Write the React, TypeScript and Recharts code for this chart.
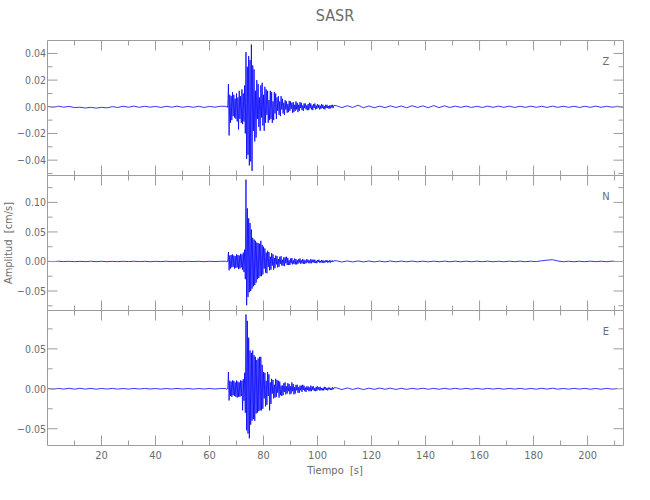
import { LineChart, Line, XAxis, YAxis } from 'recharts'

const FONT = "'DejaVu Sans Condensed', 'Liberation Sans Narrow', 'DejaVu Sans', sans-serif"
const AXIS = '#9c9c9c'
const TEXT = '#6c6c6c'
const TRACE = '#0000ff'

const PLOT_LEFT = 47.5
const PLOT_RIGHT = 623.5

// time axis [s]
const T_MAX = 213.3
const X_TICKS = [10, 20, 30, 40, 50, 60, 70, 80, 90, 100, 110, 120, 130, 140, 150, 160, 170, 180, 190, 200, 210]
const X_LABELED = [20, 40, 60, 80, 100, 120, 140, 160, 180, 200]

// sampling of the stored traces: quiet part every 2 s, event every 0.25 s
const PRE_START = 0
const PRE_DT = 2
const EVENT_START = 66
const EVENT_DT = 0.25
const POST_START = 107
const POST_DT = 2

// ---- Z ----
const Z_DOMAIN = [-0.0515, 0.0497]
const Z_TICKS = [-0.05, -0.04, -0.03, -0.02, -0.01, 0, 0.01, 0.02, 0.03, 0.04]
const Z_LABELED = [-0.04, -0.02, 0, 0.02, 0.04]

const Z_PRE = [
  0.0004, -0.0003, 0.0005, -0.0003, 0.0003, -0.0006, -0.0003, -0.0009, -0.0004, -0.001, -0.0004,
  -0.0008, 0.0001, -0.0005, 0.0004, -0.0003, 0.0005, -0.0004, 0.0004, -0.0003, 0.0003, -0.0005,
  0.0004, -0.0003, 0.0005, -0.0004, 0.0003, -0.0004, 0.0004, -0.0005, 0.0003, -0.0003, 0.0004,
]
const Z_EVENT = [
  0.0004, -0.0003, 0.0005, -0.0004,
  0.017, -0.0215, 0.009, -0.012,
  0.008, -0.01, 0.011, -0.007,
  0.009, -0.008, 0.006, -0.009,
  0.01, -0.011, 0.007, -0.017,
  0.012, -0.009, 0.008, -0.012,
  0.013, -0.013, 0.01, -0.011,
  0.016, -0.02, 0.041, -0.039,
  0.03, -0.036, 0.038, -0.044,
  0.035, -0.041, 0.0467, -0.048,
  0.031, -0.018, 0.028, -0.026,
  0.012, -0.023, 0.02, -0.009,
  0.017, -0.015, 0.007, -0.018,
  0.016, -0.008, 0.018, -0.014,
  0.009, -0.018, 0.015, -0.012,
  0.013, -0.006, 0.012, -0.012,
  0.005, -0.01, 0.012, -0.009,
  0.011, -0.012, 0.004, -0.01,
  0.011, -0.005, 0.01, -0.009,
  0.007, -0.003, 0.008, -0.006,
  0.004, -0.007, 0.008, -0.002,
  0.006, -0.005, 0.003, -0.006,
  0.005, -0.002, 0.004, -0.0045,
  0.002, -0.004, 0.0045, -0.003,
  0.004, -0.0015, 0.003, -0.0045,
  0.0035, -0.004, 0.0015, -0.003,
  0.004, -0.002, 0.003, -0.004,
  0.0015, -0.003, 0.0035, -0.001,
  0.003, -0.0025, 0.001, -0.003,
  0.0025, -0.001, 0.0025, -0.002,
  0.001, -0.0025, 0.002, -0.0025,
  0.003, -0.001, 0.0025, -0.002,
  0.001, -0.0025, 0.002, -0.0008,
  0.0025, -0.002, 0.001, -0.0015,
  0.002, -0.0008, 0.0015, -0.002,
  0.0008, -0.0015, 0.002, -0.001,
  0.0015, -0.0015, 0.0006, -0.002,
  0.0015, -0.0008, 0.0015, -0.001,
  0.0006, -0.0015, 0.001, -0.0012,
  0.0012, -0.0006, 0.0015, -0.001,
  0.001,
]
const Z_POST = [
  0.0008, -0.0006, 0.0008, -0.0005, 0.0012, -0.0007, 0.0006, -0.0007, 0.0005, -0.0006,
  0.0007, -0.0005, 0.0006, -0.0007, 0.0008, -0.0005, 0.0007, -0.0007, 0.0009, -0.0006,
  0.0007, -0.0005, 0.0005, -0.0004, 0.0005, -0.0005, 0.0004, -0.0005, 0.0005, -0.0004,
  0.0005, -0.0004, 0.0005, -0.0005, 0.0004, -0.0004, 0.0005, -0.0004, 0.0004, -0.0005,
  0.0005, -0.0004, 0.0004, -0.0004, 0.0004, -0.0005, 0.0004, -0.0004, 0.0005, -0.0004,
  0.0004, -0.0003, 0.0004, -0.0003,
]

// ---- N ----
const N_DOMAIN = [-0.083, 0.1455]
const N_TICKS = [-0.075, -0.05, -0.025, 0, 0.025, 0.05, 0.075, 0.1, 0.125]
const N_LABELED = [-0.05, 0, 0.05, 0.1]

const N_PRE = [
  0.0003, -0.0003, 0.0004, -0.0002, 0.0003, -0.0004, 0.0002, -0.0003, 0.0004, -0.0003, 0.0003,
  -0.0004, 0.0002, -0.0003, 0.0003, -0.0002, 0.0004, -0.0003, 0.0003, -0.0004, 0.0002, -0.0003,
  0.0004, -0.0003, 0.0002, -0.0004, 0.0003, -0.0002, 0.0003, -0.0004, 0.0003, -0.0002, 0.0003,
]
const N_EVENT = [
  0.0003, -0.0003, 0.0004, -0.0003,
  0.016, -0.015, 0.01, -0.012,
  0.011, -0.01, 0.012, -0.009,
  0.01, -0.012, 0.009, -0.011,
  0.012, -0.01, 0.011, -0.013,
  0.01, -0.012, 0.013, -0.01,
  0.012, -0.014, 0.015, -0.018,
  0.02, -0.03, 0.1385, -0.074,
  0.09, -0.06, 0.073, -0.052,
  0.065, -0.05, 0.054, -0.046,
  0.04, -0.042, 0.037, -0.04,
  0.035, -0.036, 0.032, -0.03,
  0.031, -0.028, 0.03, -0.025,
  0.035, -0.025, 0.028, -0.022,
  0.025, -0.012, 0.022, -0.019,
  0.015, -0.02, 0.018, -0.009,
  0.016, -0.015, 0.008, -0.014,
  0.014, -0.007, 0.012, -0.014,
  0.006, -0.011, 0.01, -0.005,
  0.009, -0.01, 0.004, -0.009,
  0.008, -0.004, 0.009, -0.007,
  0.003, -0.007, 0.007, -0.008,
  0.007, -0.003, 0.008, -0.006,
  0.006, -0.006, 0.002, -0.006,
  0.005, -0.003, 0.006, -0.005,
  0.002, -0.004, 0.005, -0.005,
  0.004, -0.005, 0.002, -0.004,
  0.004, -0.002, 0.005, -0.004,
  0.002, -0.003, 0.004, -0.004,
  0.003, -0.004, 0.0015, -0.003,
  0.004, -0.0015, 0.003, -0.003,
  0.0015, -0.003, 0.004, -0.003,
  0.003, -0.0015, 0.003, -0.0025,
  0.003, -0.0025, 0.001, -0.003,
  0.0025, -0.001, 0.003, -0.002,
  0.001, -0.002, 0.0025, -0.002,
  0.002, -0.0025, 0.001, -0.002,
  0.002, -0.001, 0.0025, -0.002,
  0.001, -0.0015, 0.002, -0.002,
  0.0015, -0.001, 0.0015, -0.0008,
  0.0012,
]
const N_POST = [
  0.0012, -0.0009, 0.0009, -0.0008, 0.0009, -0.0007, 0.0008, -0.0007, 0.0006, -0.0007,
  0.0008, -0.0006, 0.0006, -0.0005, 0.0007, -0.0006, 0.0005, -0.0006, 0.0005, -0.0005,
  0.0006, -0.0005, 0.0005, -0.0005, 0.0005, -0.0005, 0.0005, -0.0004, 0.0005, -0.0005,
  0.0004, -0.0005, 0.0005, -0.0004, 0.0005, -0.0004, 0.0005, -0.0003, 0.0012, 0.0022,
  0.003, 0.0008, -0.0005, 0.0004, -0.0005, 0.0004, -0.0004, 0.0005, -0.0003, 0.0004,
  -0.0004, 0.0005, -0.0003,
]

// ---- E ----
const E_DOMAIN = [-0.071, 0.098]
const E_TICKS = [-0.05, -0.025, 0, 0.025, 0.05, 0.075]
const E_LABELED = [-0.05, 0, 0.05]

const E_PRE = [
  0.0004, -0.0003, 0.0005, -0.0004, 0.0006, -0.0005, 0.0006, -0.0004, 0.0005, -0.0005, 0.0004,
  -0.0003, 0.0004, -0.0004, 0.0003, -0.0004, 0.0004, -0.0003, 0.0004, -0.0003, 0.0003, -0.0004,
  0.0003, -0.0003, 0.0004, -0.0003, 0.0003, -0.0004, 0.0003, -0.0003, 0.0004, -0.0003, 0.0003,
]
const E_EVENT = [
  0.0003, -0.0004, 0.0003, -0.0003,
  0.021, -0.0146, 0.01, -0.009,
  0.009, -0.01, 0.0104, -0.008,
  0.01, -0.009, 0.008, -0.01,
  0.0104, -0.011, 0.009, -0.01,
  0.008, -0.01, 0.0104, -0.009,
  0.01, -0.027, 0.012, -0.015,
  0.02, -0.03, 0.093, -0.052,
  0.085, -0.056, 0.064, -0.062,
  0.048, -0.045, 0.045, -0.04,
  0.048, -0.038, 0.042, -0.04,
  0.04, -0.031, 0.036, -0.03,
  0.038, -0.028, 0.04, -0.027,
  0.04, -0.027, 0.03, -0.025,
  0.021, -0.012, 0.02, -0.022,
  0.01, -0.02, 0.021, -0.009,
  0.018, -0.027, 0.008, -0.019,
  0.0125, -0.006, 0.011, -0.012,
  0.005, -0.011, 0.0125, -0.01,
  0.011, -0.005, 0.01, -0.011,
  0.009, -0.008, 0.004, -0.009,
  0.004, -0.008, 0.007, -0.004,
  0.008, -0.007, 0.003, -0.006,
  0.007, -0.003, 0.006, -0.007,
  0.003, -0.006, 0.008, -0.003,
  0.006, -0.007, 0.002, -0.006,
  0.005, -0.002, 0.005, -0.005,
  0.002, -0.005, 0.004, -0.002,
  0.004, -0.004, 0.005, -0.0015,
  0.004, -0.003, 0.0015, -0.004,
  0.003, -0.0015, 0.003, -0.003,
  0.0015, -0.003, 0.004, -0.003,
  0.003, -0.0015, 0.003, -0.0025,
  0.001, -0.003, 0.0025, -0.0025,
  0.003, -0.001, 0.002, -0.002,
  0.0025, -0.002, 0.001, -0.002,
  0.001, -0.002, 0.0025, -0.001,
  0.002, -0.0015, 0.001, -0.002,
  0.0015, -0.0008, 0.0015, -0.0015,
  0.0008, -0.0015, 0.002, -0.0008,
  0.0012,
]
const E_POST = [
  0.0012, -0.001, 0.0011, -0.0008, 0.0009, -0.001, 0.0008, -0.0007, 0.0009, -0.0006,
  0.0007, -0.0008, 0.0006, -0.0007, 0.0006, -0.0005, 0.0007, -0.0006, 0.0005, -0.0006,
  0.0005, -0.0005, 0.0006, -0.0005, 0.0005, -0.0005, 0.0005, -0.0005, 0.0005, -0.0004,
  0.0005, -0.0005, 0.0005, -0.0004, 0.0005, -0.0005, 0.0004, -0.0005, 0.0006, -0.0004,
  0.0007, -0.0005, 0.0004, -0.0005, 0.0005, -0.0004, 0.0005, -0.0006, 0.0004, -0.0006,
  0.0005, -0.0004, 0.0003,
]

type Pt = { t: number; v: number }

function buildTrace(pre: number[], ev: number[], post: number[]): Pt[] {
  const out: Pt[] = []
  pre.forEach((v, i) => out.push({ t: PRE_START + i * PRE_DT, v }))
  ev.forEach((v, i) => out.push({ t: EVENT_START + i * EVENT_DT, v }))
  post.forEach((v, i) => out.push({ t: POST_START + i * POST_DT, v }))
  return out
}

const has = (list: number[], v: number) => list.some((l) => Math.abs(l - v) < 1e-9)
const fmtY = (v: number) => (v < 0 ? '\u2212' + Math.abs(v).toFixed(2) : v.toFixed(2))

const PANELS = [
  { id: 'Z', data: buildTrace(Z_PRE, Z_EVENT, Z_POST), domain: Z_DOMAIN, ticks: Z_TICKS, labeled: Z_LABELED, top: 40.5, bottom: 175.5 },
  { id: 'N', data: buildTrace(N_PRE, N_EVENT, N_POST), domain: N_DOMAIN, ticks: N_TICKS, labeled: N_LABELED, top: 175.5, bottom: 310.5 },
  { id: 'E', data: buildTrace(E_PRE, E_EVENT, E_POST), domain: E_DOMAIN, ticks: E_TICKS, labeled: E_LABELED, top: 310.5, bottom: 445.5 },
]

const txt = { fontFamily: FONT, fill: TEXT }

export default function App() {
  return (
    <div style={{ position: 'absolute', left: 0, top: 0, width: 650, height: 500, background: '#fff' }}>
      {PANELS.map((p, idx) => {
        const last = idx === PANELS.length - 1
        return (
          <div key={p.id} style={{ position: 'absolute', left: 0, top: 0 }}>
            <LineChart
              width={650}
              height={500}
              data={p.data}
              margin={{ top: p.top - 1, bottom: 500 - p.bottom - 1, left: 0, right: 0 }}
            >
              <XAxis
                xAxisId="b"
                dataKey="t"
                type="number"
                domain={[0, T_MAX]}
                allowDataOverflow
                ticks={X_TICKS}
                interval={0}
                height={1}
                tickSize={0}
                tickMargin={0}
                stroke={AXIS}
                tick={(tp: any) => {
                  const major = has(X_LABELED, tp.payload.value)
                  return (
                    <g>
                      <line x1={tp.x} x2={tp.x} y1={tp.y} y2={tp.y - (major ? 10 : 5)} stroke={AXIS} />
                      {last && major && (
                        <text x={tp.x} y={tp.y + 13} textAnchor="middle" fontSize={11} {...txt}>
                          {tp.payload.value}
                        </text>
                      )}
                    </g>
                  )
                }}
              />
              <XAxis
                xAxisId="t"
                orientation="top"
                dataKey="t"
                type="number"
                domain={[0, T_MAX]}
                allowDataOverflow
                ticks={X_TICKS}
                interval={0}
                height={1}
                tickSize={0}
                tickMargin={0}
                stroke={AXIS}
                tick={(tp: any) => {
                  const major = has(X_LABELED, tp.payload.value)
                  return <line x1={tp.x} x2={tp.x} y1={tp.y} y2={tp.y + (major ? 10 : 5)} stroke={AXIS} />
                }}
              />
              <YAxis
                yAxisId="l"
                type="number"
                domain={p.domain}
                allowDataOverflow
                ticks={p.ticks}
                interval={0}
                width={PLOT_LEFT}
                tickSize={0}
                tickMargin={0}
                stroke={AXIS}
                tick={(tp: any) => {
                  const major = has(p.labeled, tp.payload.value)
                  return (
                    <g>
                      <line x1={tp.x} x2={tp.x + (major ? 10 : 5)} y1={tp.y} y2={tp.y} stroke={AXIS} />
                      {major && (
                        <text x={tp.x - 1.5} y={tp.y + 3.8} textAnchor="end" fontSize={10.5} {...txt}>
                          {fmtY(tp.payload.value)}
                        </text>
                      )}
                    </g>
                  )
                }}
              />
              <YAxis
                yAxisId="r"
                orientation="right"
                type="number"
                domain={p.domain}
                allowDataOverflow
                ticks={p.ticks}
                interval={0}
                width={650 - PLOT_RIGHT}
                tickSize={0}
                tickMargin={0}
                stroke={AXIS}
                tick={(tp: any) => {
                  const major = has(p.labeled, tp.payload.value)
                  return <line x1={tp.x} x2={tp.x - (major ? 10 : 5)} y1={tp.y} y2={tp.y} stroke={AXIS} />
                }}
              />
              <Line
                xAxisId="b"
                yAxisId="l"
                type="linear"
                dataKey="v"
                stroke={TRACE}
                strokeWidth={0.8}
                dot={false}
                isAnimationActive={false}
              />
            </LineChart>
          </div>
        )
      })}
      <svg width={650} height={500} style={{ position: 'absolute', left: 0, top: 0, pointerEvents: 'none' }}>
        <text x={335} y={21} textAnchor="middle" fontSize={16} {...txt}>SASR</text>
        <text x={606} y={65} textAnchor="middle" fontSize={11} {...txt}>Z</text>
        <text x={606} y={200} textAnchor="middle" fontSize={11} {...txt}>N</text>
        <text x={606} y={335} textAnchor="middle" fontSize={11} {...txt}>E</text>
        <text x={335} y={474} textAnchor="middle" fontSize={11} {...txt}>{'Tiempo\u00a0 [s]'}</text>
        <text x={12} y={243} textAnchor="middle" fontSize={11} transform="rotate(-90 12 243)" {...txt}>
          {'Amplitud\u00a0 [cm/s]'}
        </text>
      </svg>
    </div>
  )
}
